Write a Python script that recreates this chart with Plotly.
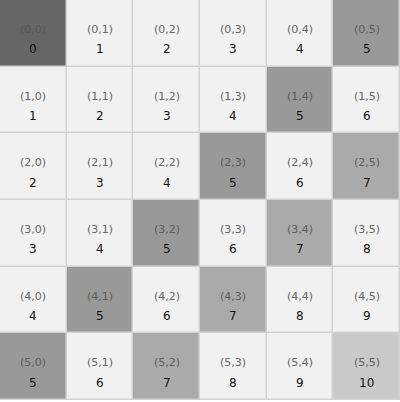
import plotly.graph_objects as go

rows = [0, 1, 2, 3, 4, 5]
cols = [0, 1, 2, 3, 4, 5]
values = [
    [0, 1, 2, 3, 4, 5],
    [1, 2, 3, 4, 5, 6],
    [2, 3, 4, 5, 6, 7],
    [3, 4, 5, 6, 7, 8],
    [4, 5, 6, 7, 8, 9],
    [5, 6, 7, 8, 9, 10],
]
cell_labels = [[f"({r},{c})" for c in cols] for r in rows]

# colour per value (discrete)
value_colors = {0: "#666666", 5: "#999999", 7: "#aaaaaa", 10: "#c9c9c9"}
base_color = "#f1f1f1"
vmin, vmax = 0, 10
colorscale = []
for v in range(vmin, vmax + 1):
    col = value_colors.get(v, base_color)
    lo = max(0.0, (v - 0.5 - vmin) / (vmax - vmin))
    hi = min(1.0, (v + 0.5 - vmin) / (vmax - vmin))
    colorscale.append([lo, col])
    colorscale.append([hi, col])

fig = go.Figure()
fig.add_trace(go.Heatmap(
    z=values, x=cols, y=rows,
    zmin=vmin, zmax=vmax,
    colorscale=colorscale, showscale=False,
    xgap=1.5, ygap=1.5, hoverinfo="skip",
))

annotations = []
for r in rows:
    for c in cols:
        annotations.append(dict(x=c, y=r, text=cell_labels[r][c], showarrow=False,
                                font=dict(family="DejaVu Sans", size=11, color="#555555"),
                                yshift=4, opacity=0.9))
        annotations.append(dict(x=c, y=r, text=str(values[r][c]), showarrow=False,
                                font=dict(family="DejaVu Sans", size=12, color="#111111"),
                                yshift=-16))

fig.update_layout(
    width=400, height=402,
    margin=dict(l=0, r=0, t=0, b=2),
    plot_bgcolor="#d2d2d2", paper_bgcolor="#ffffff",
    xaxis=dict(visible=False, range=[-0.5, 5.5], fixedrange=True),
    yaxis=dict(visible=False, range=[5.5, -0.5], fixedrange=True),
    annotations=annotations,
    showlegend=False,
)
fig.write_html("out.html")
